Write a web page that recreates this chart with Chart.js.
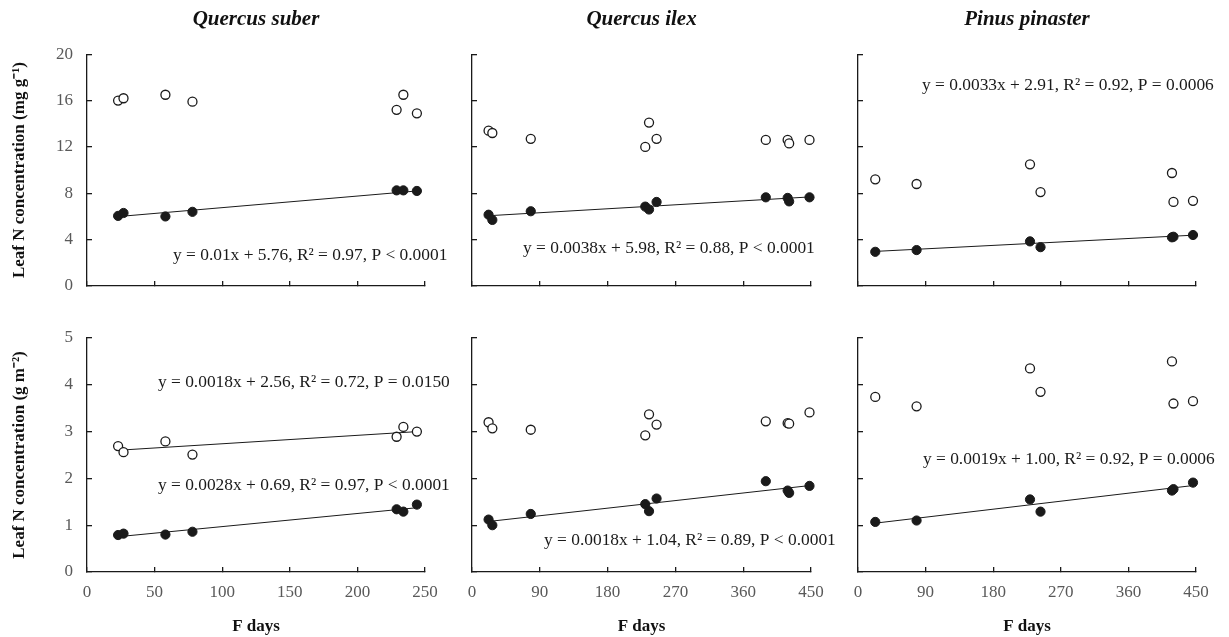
<!DOCTYPE html>
<html>
<head>
<meta charset="utf-8">
<script src="https://cdn.jsdelivr.net/npm/chart.js@4.4.1/dist/chart.umd.min.js"></script>
<style>
body { margin: 0; background: #fff; overflow: hidden; }
#wrap { position: relative; width: 1229px; height: 637px; }
#wrap canvas { position: absolute; }
</style>
</head>
<body>
<div id="wrap"></div>
<script>
// ---- data (F days on x, leaf N on y); open = one leaf group, filled = the other
const suberDays = [23, 27, 58, 78, 229, 234, 244];
const suberMassOpen = [16.0, 16.2, 16.5, 15.9, 15.2, 16.5, 14.9];
const suberMassFilled = [6.05, 6.3, 6.0, 6.4, 8.25, 8.25, 8.2];
const suberAreaOpen = [2.69, 2.56, 2.79, 2.51, 2.89, 3.1, 3.0];
const suberAreaFilled = [0.79, 0.82, 0.8, 0.86, 1.34, 1.29, 1.44];

const ilexDays = [22, 27, 78, 230, 235, 245, 390, 419, 421, 448];
const ilexMassOpen = [13.4, 13.2, 12.7, 12.0, 14.1, 12.7, 12.6, 12.6, 12.3, 12.6];
const ilexMassFilled = [6.15, 5.7, 6.45, 6.85, 6.6, 7.25, 7.65, 7.6, 7.3, 7.65];
const ilexAreaOpen = [3.2, 3.07, 3.04, 2.92, 3.37, 3.15, 3.22, 3.18, 3.17, 3.41];
const ilexAreaFilled = [1.12, 1.0, 1.24, 1.45, 1.3, 1.57, 1.94, 1.74, 1.69, 1.84];

const pinasterDays = [23, 78, 229, 243, 418, 420, 446];
const pinasterMassOpen = [9.2, 8.8, 10.5, 8.1, 9.75, 7.25, 7.35];
const pinasterMassFilled = [2.95, 3.1, 3.85, 3.35, 4.2, 4.25, 4.4];
const pinasterAreaOpen = [3.74, 3.54, 4.35, 3.85, 4.5, 3.6, 3.65];
const pinasterAreaFilled = [1.07, 1.1, 1.55, 1.29, 1.74, 1.77, 1.91];

// regression fits [slope, intercept] and their labels
const fitSuberMass = [0.01, 5.76];
const fitIlexMass = [0.0038, 5.98];
const fitPinasterMass = [0.0033, 2.91];
const fitSuberAreaOpen = [0.0018, 2.56];
const fitSuberArea = [0.0028, 0.69];
const fitIlexArea = [0.0018, 1.04];
const fitPinasterArea = [0.0019, 1.0];

const eqSuberMass = "y = 0.01x + 5.76, R² = 0.97, P < 0.0001";
const eqIlexMass = "y = 0.0038x + 5.98, R² = 0.88, P < 0.0001";
const eqPinasterMass = "y = 0.0033x + 2.91, R² = 0.92, P = 0.0006";
const eqSuberAreaOpen = "y = 0.0018x + 2.56, R² = 0.72, P = 0.0150";
const eqSuberArea = "y = 0.0028x + 0.69, R² = 0.97, P < 0.0001";
const eqIlexArea = "y = 0.0018x + 1.04, R² = 0.89, P < 0.0001";
const eqPinasterArea = "y = 0.0019x + 1.00, R² = 0.92, P = 0.0006";

const speciesNames = ["Quercus suber", "Quercus ilex", "Pinus pinaster"];
const massTitle = "Leaf N concentration (mg g\u207B\u00B9)";
const areaTitle = "Leaf N concentration (g m\u207B\u00B2)";

Chart.defaults.font.family = '"Liberation Serif", "Times New Roman", serif';
Chart.defaults.font.size = 17;

const INK = "#1a1a1a";
const TICK_GREY = "#595959";

function pts(xs, ys) {
	return xs.map((x, i) => ({ x: x, y: ys[i] }));
}
function fitLine(xs, fit) {
	// two end points of the fitted line over the observed range
	const lo = Math.min(...xs), hi = Math.max(...xs);
	return [lo, hi].map((x) => ({ x: x, y: fit[0] * x + fit[1] }));
}

function makePanel(p) {
	const c = document.createElement("canvas");
	c.width = p.width;
	c.height = p.height;
	c.style.left = p.left + "px";
	c.style.top = p.top + "px";
	document.getElementById("wrap").appendChild(c);

	let datasets = [
		{
			data: pts(p.days, p.open),
			clip: false,
			pointRadius: 4.5,
			pointBackgroundColor: "#fff",
			pointBorderColor: INK,
			pointBorderWidth: 1.3,
		},
		{
			data: pts(p.days, p.filled),
			clip: false,
			pointRadius: 4.6,
			pointBackgroundColor: INK,
			pointBorderColor: INK,
			pointBorderWidth: 1,
		},
	];
	// fitted lines go last so they sit under the points
	p.fits.forEach((f) => {
		datasets.push({
			data: fitLine(p.days, f),
			showLine: true,
			pointRadius: 0,
			borderColor: INK,
			borderWidth: 1,
		});
	});

	const notes = {
		id: "notes",
		afterDatasetsDraw(chart) {
			const { ctx, scales: { x, y } } = chart;
			ctx.save();
			ctx.font = '17.4px "Liberation Serif"';
			ctx.fillStyle = INK;
			ctx.textAlign = "left";
			ctx.textBaseline = "middle";
			p.notes.forEach((n) => {
				ctx.fillText(n.text, x.getPixelForValue(n.x), y.getPixelForValue(n.y));
			});
			ctx.restore();
		},
	};

	new Chart(c, {
		type: "scatter",
		data: { datasets: datasets },
		plugins: [notes],
		options: {
			responsive: false,
			animation: false,
			events: [],
			devicePixelRatio: 1,
			layout: { padding: { top: p.padTop, right: 30, left: 0, bottom: 0 } },
			plugins: {
				legend: { display: false },
				tooltip: { enabled: false },
				title: {
					display: !!p.title,
					text: p.title,
					fullSize: false,
					color: "#111",
					font: { size: 21, weight: "bold", style: "italic" },
					padding: { top: 7, bottom: 22 },
				},
			},
			scales: {
				x: {
					type: "linear",
					min: 0,
					max: p.xMax,
					ticks: { stepSize: p.xStep, display: p.xLabels, color: TICK_GREY, padding: 15 },
					grid: { drawOnChartArea: false, tickLength: -5, color: INK, lineWidth: 1.3 },
					border: { color: INK, width: 1.3 },
					title: {
						display: p.xLabels,
						text: "F days",
						color: "#111",
						font: { weight: "bold" },
						padding: { top: 0, bottom: 0 },
					},
					afterFit: (s) => {
						s.height = p.xAxisH;
					},
				},
				y: {
					min: 0,
					max: p.yMax,
					ticks: { stepSize: p.yStep, display: !!p.yTitle, color: TICK_GREY, padding: 19 },
					grid: { drawOnChartArea: false, tickLength: -5, color: INK, lineWidth: 1.3 },
					border: { color: INK, width: 1.3 },
					title: {
						display: !!p.yTitle,
						text: p.yTitle,
						color: "#111",
						font: { weight: "bold" },
						padding: { top: 9, bottom: 0 },
					},
					afterFit: (s) => {
						s.width = p.yAxisW;
						// keep the label padding from pushing the plot area around
						s.paddingTop = 0;
						s.paddingBottom = 0;
					},
				},
			},
		},
	});
}

// column geometry: canvas left, width, y-axis width
const cols = [
	{ left: 0, width: 455, yAxisW: 87 },
	{ left: 442, width: 399, yAxisW: 30 },
	{ left: 828, width: 398, yAxisW: 30 },
];
const xMaxes = [250, 450, 450];
const xSteps = [50, 90, 90];

const topRow = [
	{ days: suberDays, open: suberMassOpen, filled: suberMassFilled, fits: [fitSuberMass],
		notes: [{ text: eqSuberMass, x: 63.6, y: 2.67 }] },
	{ days: ilexDays, open: ilexMassOpen, filled: ilexMassFilled, fits: [fitIlexMass],
		notes: [{ text: eqIlexMass, x: 67.7, y: 3.28 }] },
	{ days: pinasterDays, open: pinasterMassOpen, filled: pinasterMassFilled, fits: [fitPinasterMass],
		notes: [{ text: eqPinasterMass, x: 85.2, y: 17.3 }] },
];
const bottomRow = [
	{ days: suberDays, open: suberAreaOpen, filled: suberAreaFilled, fits: [fitSuberAreaOpen, fitSuberArea],
		notes: [{ text: eqSuberAreaOpen, x: 52.5, y: 4.06 }, { text: eqSuberArea, x: 52.5, y: 1.86 }] },
	{ days: ilexDays, open: ilexAreaOpen, filled: ilexAreaFilled, fits: [fitIlexArea],
		notes: [{ text: eqIlexArea, x: 95.6, y: 0.68 }] },
	{ days: pinasterDays, open: pinasterAreaOpen, filled: pinasterAreaFilled, fits: [fitPinasterArea],
		notes: [{ text: eqPinasterArea, x: 86.5, y: 2.41 }] },
];

topRow.forEach((d, i) => {
	makePanel(Object.assign({}, d, cols[i], {
		top: 0, height: 296, padTop: 0, xAxisH: 10,
		xMax: xMaxes[i], xStep: xSteps[i], xLabels: false,
		yMax: 20, yStep: 4, yTitle: i == 0 ? massTitle : "",
		title: speciesNames[i],
	}));
});
bottomRow.forEach((d, i) => {
	makePanel(Object.assign({}, d, cols[i], {
		top: 318, height: 319, padTop: 20, xAxisH: 65,
		xMax: xMaxes[i], xStep: xSteps[i], xLabels: true,
		yMax: 5, yStep: 1, yTitle: i == 0 ? areaTitle : "",
		title: "",
	}));
});
</script>
</body>
</html>
